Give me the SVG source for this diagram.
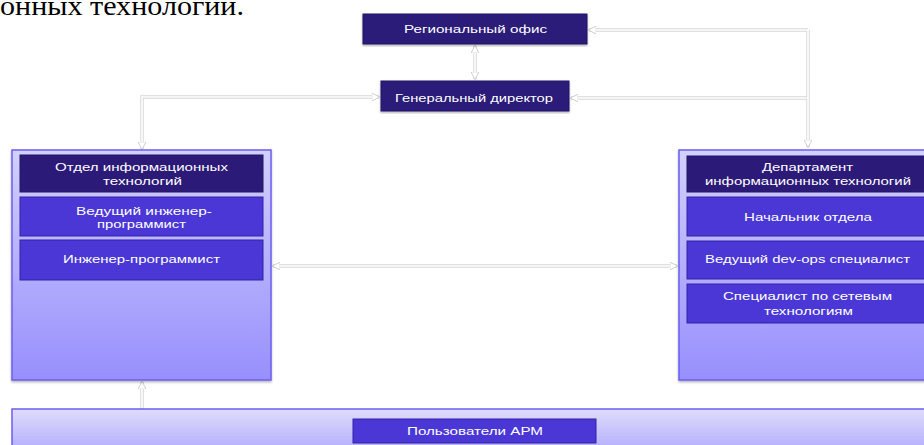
<svg xmlns="http://www.w3.org/2000/svg" width="924" height="445" viewBox="0 0 924 445">
<defs>
<style>
.t{font-family:"Liberation Sans",Arial,sans-serif;font-size:11px;fill:#ffffff;text-anchor:middle}
.dk{fill:#2c1a78;stroke:#241466;stroke-width:1}
.md{fill:#4a37d6;stroke:#3322a8;stroke-width:1}
.cont{stroke:#6c5ef2;stroke-width:1.5}
.cs{fill:none;stroke:#d6d6d6;stroke-width:3.4}
.cl{fill:none;stroke:#ffffff;stroke-width:1.6}
</style>
<linearGradient id="gc" x1="0" y1="0" x2="0" y2="1">
<stop offset="0" stop-color="#d2d0fc"/>
<stop offset="1" stop-color="#978ffd"/>
</linearGradient>
<linearGradient id="gu" x1="0" y1="0" x2="0" y2="1">
<stop offset="0" stop-color="#dedcfd"/>
<stop offset="1" stop-color="#aaa4fb"/>
</linearGradient>
<filter id="sh" x="-5%" y="-5%" width="110%" height="115%">
<feDropShadow dx="0" dy="1.5" stdDeviation="1.2" flood-color="#000" flood-opacity="0.3"/>
</filter>
<marker id="ah" viewBox="0 0 10 10" refX="9" refY="5" markerWidth="8" markerHeight="8" markerUnits="userSpaceOnUse" orient="auto-start-reverse">
<path d="M0,0 L10,5 L0,10 Z" fill="#ffffff" stroke="#c4c4c4" stroke-width="1"/>
</marker>
</defs>
<rect width="924" height="445" fill="#ffffff"/>
<text x="0" y="15" font-family="Liberation Serif,Times New Roman,serif" font-size="28" fill="#000000" textLength="244" lengthAdjust="spacingAndGlyphs">онных технологий.</text>

<g id="connectors">
<path class="cs" d="M475,46 V79"/>
<path class="cl" d="M475,46 V79" marker-start="url(#ah)" marker-end="url(#ah)"/>
<path class="cs" d="M808,30 H589 M808,30 V147 M808,98 H571"/>
<path class="cl" d="M808,30 H589" marker-end="url(#ah)"/>
<path class="cl" d="M808,30 V147" marker-end="url(#ah)"/>
<path class="cl" d="M808,98 H571" marker-end="url(#ah)"/>
<path class="cs" d="M142,149 V97 H379"/>
<path class="cl" d="M142,149 V97 H379" marker-start="url(#ah)" marker-end="url(#ah)"/>
<path class="cs" d="M273,266 H677"/>
<path class="cl" d="M273,266 H677" marker-start="url(#ah)" marker-end="url(#ah)"/>
<path class="cs" d="M142,382 V409"/>
<path class="cl" d="M142,382 V409" marker-start="url(#ah)"/>
</g>

<g id="regional">
<rect class="dk" x="363" y="14" width="224" height="30" filter="url(#sh)"/>
<text class="t" x="475.5" y="33" textLength="143" lengthAdjust="spacingAndGlyphs">Региональный офис</text>
</g>

<g id="director">
<rect class="dk" x="381" y="81" width="188" height="30" filter="url(#sh)"/>
<text class="t" x="474" y="102" textLength="158" lengthAdjust="spacingAndGlyphs">Генеральный директор</text>
</g>

<g id="it-dept">
<rect class="cont" x="12" y="150" width="259" height="230" fill="url(#gc)" filter="url(#sh)"/>
<rect class="dk" x="20" y="155" width="243" height="37"/>
<text class="t" x="141.5" y="171" textLength="173" lengthAdjust="spacingAndGlyphs">Отдел информационных</text>
<text class="t" x="142.5" y="185" textLength="79" lengthAdjust="spacingAndGlyphs">технологий</text>
<rect class="md" x="20" y="197" width="243" height="39"/>
<text class="t" x="144" y="215" textLength="136" lengthAdjust="spacingAndGlyphs">Ведущий инженер-</text>
<text class="t" x="141.5" y="228" textLength="89" lengthAdjust="spacingAndGlyphs">программист</text>
<rect class="md" x="20" y="240" width="243" height="40"/>
<text class="t" x="141.5" y="263" textLength="157" lengthAdjust="spacingAndGlyphs">Инженер-программист</text>
</g>

<g id="it-department">
<rect class="cont" x="679" y="150" width="260" height="230" fill="url(#gc)" filter="url(#sh)"/>
<rect class="dk" x="687" y="156" width="243" height="36"/>
<text class="t" x="807.5" y="171" textLength="91" lengthAdjust="spacingAndGlyphs">Департамент</text>
<text class="t" x="808" y="185" textLength="206" lengthAdjust="spacingAndGlyphs">информационных технологий</text>
<rect class="md" x="687" y="197" width="243" height="39"/>
<text class="t" x="808" y="221" textLength="128" lengthAdjust="spacingAndGlyphs">Начальник отдела</text>
<rect class="md" x="687" y="241" width="243" height="38"/>
<text class="t" x="807.5" y="263" textLength="205" lengthAdjust="spacingAndGlyphs">Ведущий dev-ops специалист</text>
<rect class="md" x="687" y="284" width="243" height="39"/>
<text class="t" x="807.5" y="300" textLength="169" lengthAdjust="spacingAndGlyphs">Специалист по сетевым</text>
<text class="t" x="808.5" y="315" textLength="89" lengthAdjust="spacingAndGlyphs">технологиям</text>
</g>

<g id="users">
<rect class="cont" x="12" y="409" width="930" height="50" fill="url(#gu)"/>
<rect class="md" x="353" y="419" width="243" height="24"/>
<text class="t" x="475" y="435" textLength="136" lengthAdjust="spacingAndGlyphs">Пользователи АРМ</text>
</g>
</svg>
